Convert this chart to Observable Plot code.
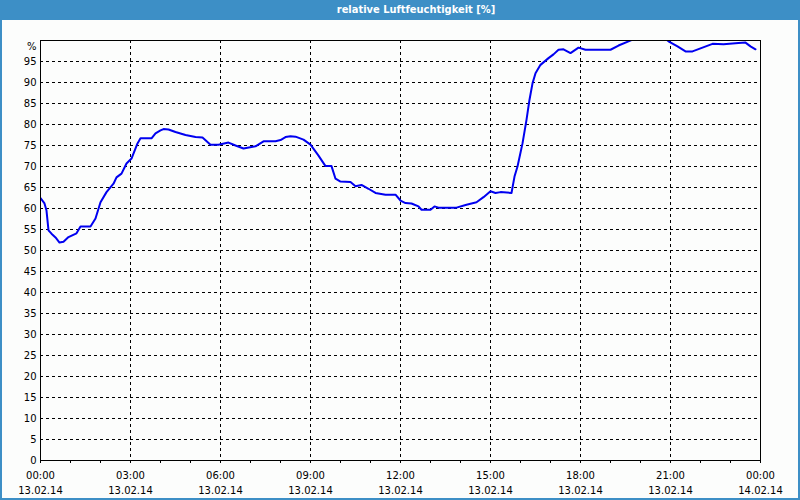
<!DOCTYPE html>
<html>
<head>
<meta charset="utf-8">
<script src="https://cdn.jsdelivr.net/npm/d3@7"></script>
<script src="https://cdn.jsdelivr.net/npm/@observablehq/plot@0.6"></script>
<style>
  html, body { margin: 0; padding: 0; background: #fcfdfc; }
  #wrap { position: relative; width: 800px; height: 500px; background: #fcfdfc; overflow: hidden; }
  #title { position: absolute; left: 0; top: 0; width: 800px; height: 20px; background: #3d8fc6;
           color: #fff; font: bold 11px "DejaVu Sans Condensed", "DejaVu Sans", sans-serif;
           line-height: 20px; text-align: center; box-sizing: border-box; padding-left: 32px; }
  #chart { position: absolute; left: 0; top: 20px; }
  #border { position: absolute; left: 0; top: 0; width: 800px; height: 500px; box-sizing: border-box;
            border: 2px solid #3d8fc6; border-top: none; pointer-events: none; }
</style>
</head>
<body>
<div id="wrap">
  <div id="title">relative Luftfeuchtigkeit [%]</div>
  <div id="chart"></div>
  <div id="border"></div>
</div>
<script>
const times = ["00:00","00:08","00:12","00:16","00:22","00:30","00:38","00:46","00:56","01:12",
  "01:20","01:40","01:50","02:00","02:12","02:26","02:32","02:42","02:52","03:02",
  "03:14","03:20","03:42","03:50","04:00","04:06","04:16","04:30","04:50","05:10",
  "05:24","05:40","05:56","06:16","06:30","06:46","07:10","07:26","07:50","08:00",
  "08:10","08:20","08:30","08:46","09:00","09:16","09:30","09:42","09:50","10:00",
  "10:20","10:30","10:42","10:56","11:10","11:30","11:50","12:00","12:10","12:22",
  "12:36","12:42","13:00","13:08","13:16","13:52","14:12","14:32","14:46","15:00",
  "15:10","15:20","15:42","15:48","15:54","16:04","16:12","16:18","16:24","16:30",
  "16:40","16:56","17:06","17:16","17:26","17:40","17:56","18:10","19:00","19:16",
  "19:36","19:52","20:20","20:48","20:56","21:14","21:30","21:44","22:04","22:24",
  "22:46","23:16","23:30","23:40","23:50"];
const humidity = [62.5,61.2,59.5,54.8,54.0,53.1,51.9,52.1,53.2,54.1,
  55.7,55.7,57.6,61.5,63.9,65.9,67.4,68.3,70.7,71.9,
  75.5,76.7,76.7,77.9,78.6,78.9,78.8,78.2,77.5,77.0,
  76.9,75.2,75.2,75.7,75.0,74.3,74.8,76.0,76.0,76.3,
  77.0,77.2,77.1,76.4,75.2,72.6,70.1,70.1,67.1,66.4,
  66.3,65.3,65.6,64.7,63.7,63.3,63.3,61.9,61.3,61.2,
  60.5,59.7,59.7,60.5,60.2,60.2,60.9,61.5,62.7,64.1,
  63.7,63.9,63.7,67.6,70.0,75.5,81.1,85.9,89.8,92.2,
  94.2,95.8,96.7,97.8,97.9,97.0,98.3,97.8,97.8,98.8,
  99.8,100.6,101.0,100.6,99.8,98.6,97.4,97.4,98.3,99.2,
  99.1,99.4,99.5,98.6,97.9];

const xTickHours = [0,3,6,9,12,15,18,21,24];
const xTickTimes = ["00:00","03:00","06:00","09:00","12:00","15:00","18:00","21:00","00:00"];
const xTickDates = ["13.02.14","13.02.14","13.02.14","13.02.14","13.02.14","13.02.14","13.02.14","13.02.14","14.02.14"];
const xMinorHours = d3.range(0, 25, 1);
const yTicks = d3.range(0, 100, 5);
const yGrid = d3.range(5, 100, 5);
const xGrid = [3,6,9,12,15,18,21];

const toHours = t => { const [h, m] = t.split(":").map(Number); return h + m / 60; };
const data = times.map((t, i) => ({hour: toHours(t), value: humidity[i]}));

const labelOf = new Map(xTickHours.map((h, i) => [h, xTickTimes[i] + "\n" + xTickDates[i]]));

const chart = Plot.plot({
  width: 800,
  height: 480,
  marginTop: 20,
  marginBottom: 40,
  marginLeft: 40,
  marginRight: 40,
  x: {domain: [0, 24]},
  y: {domain: [0, 100]},
  style: {background: "transparent", color: "#000", fontFamily: "'DejaVu Sans', sans-serif", fontSize: "10px"},
  marks: [
    Plot.gridY(yGrid, {stroke: "#000", strokeOpacity: 1, strokeDasharray: "3,3"}),
    Plot.gridX(xGrid, {stroke: "#000", strokeOpacity: 1, strokeDasharray: "3,3"}),
    Plot.line(data, {x: "hour", y: "value", stroke: "#0000f0", strokeWidth: 2, clip: true}),
    Plot.frame({stroke: "#000"}),
    Plot.axisY(yTicks, {tickSize: 0, tickPadding: 4, label: null}),
    Plot.text(["%"], {x: 0, y: 100, text: d => d, textAnchor: "end", dx: -4, dy: 6}),
    Plot.axisX(xMinorHours, {tickSize: 3, tickFormat: () => "", label: null}),
    Plot.axisX(xTickHours, {tickSize: 0, tickPadding: 8, lineHeight: 1.5, label: null, tickFormat: h => labelOf.get(h)})
  ]
});
document.getElementById("chart").appendChild(chart);
</script>
</body>
</html>
